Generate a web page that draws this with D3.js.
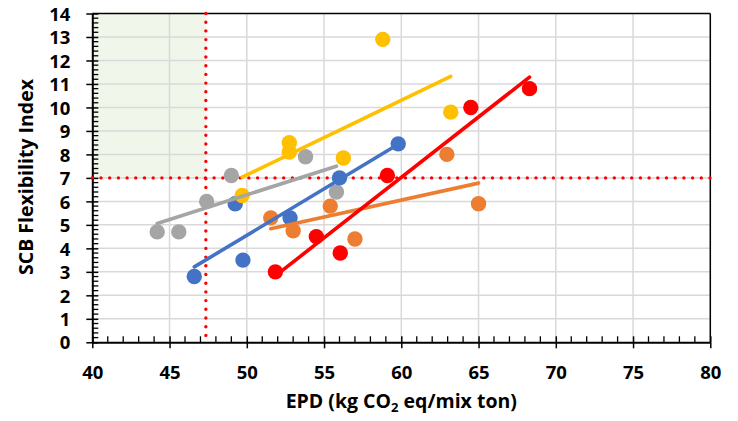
<!DOCTYPE html>
<html>
<head>
<meta charset="utf-8">
<script src="https://cdn.jsdelivr.net/npm/d3@7"></script>
<style>
  html, body { margin: 0; padding: 0; background: #fff; }
  svg { display: block; font-family: "Open Sans", "Liberation Sans", sans-serif; font-weight: 700; }
</style>
</head>
<body>
<svg id="chart" width="738" height="421"></svg>
<script>
// Axis ticks
const xTicks = [40, 45, 50, 55, 60, 65, 70, 75, 80];
const yTicks = [0, 1, 2, 3, 4, 5, 6, 7, 8, 9, 10, 11, 12, 13, 14];

// Thresholds (dotted red guides) and the target zone
const epdLimit = 47.35;
const flexLimit = 7;

// Mix groups: EPD (kg CO2 eq/mix ton) and SCB flexibility index
const grayEPD   = [44.2, 45.6, 47.4, 49.0, 53.8, 55.8];
const grayFI    = [4.7, 4.7, 6.0, 7.1, 7.9, 6.4];
const orangeEPD = [51.55, 53.0, 55.4, 57.0, 62.95, 65.0];
const orangeFI  = [5.3, 4.75, 5.8, 4.4, 8.0, 5.9];
const blueEPD   = [46.6, 49.25, 49.75, 52.8, 56.0, 59.8];
const blueFI    = [2.8, 5.9, 3.5, 5.3, 7.0, 8.45];
const yellowEPD = [49.7, 52.75, 52.75, 56.25, 58.8, 63.2];
const yellowFI  = [6.25, 8.1, 8.5, 7.85, 12.9, 9.8];
const redEPD    = [51.85, 54.5, 56.05, 59.1, 64.5, 68.3];
const redFI     = [3.0, 4.5, 3.8, 7.1, 10.0, 10.8];

const groups = [
  { x: grayEPD,   y: grayFI,   color: "#A5A5A5" },
  { x: orangeEPD, y: orangeFI, color: "#ED7D31" },
  { x: blueEPD,   y: blueFI,   color: "#4472C4" },
  { x: yellowEPD, y: yellowFI, color: "#FFC000" },
  { x: redEPD,    y: redFI,    color: "#FF0000" }
];

const svg = d3.select("#chart");
const plotLeft = 92.3, plotRight = 710.3, plotTop = 13.5, plotBottom = 342.3;

const x = d3.scaleLinear().domain([40, 80]).range([plotLeft, plotRight]);
const y = d3.scaleLinear().domain([0, 14]).range([plotBottom, plotTop]);

// Target zone: low EPD, high flexibility
svg.append("rect")
  .attr("x", x(40)).attr("y", y(14))
  .attr("width", x(epdLimit) - x(40))
  .attr("height", y(flexLimit) - y(14))
  .attr("fill", "#F0F6EA");

// Gridlines
svg.append("g").selectAll("line").data(xTicks.slice(1, -1)).join("line")
  .attr("x1", d => x(d)).attr("x2", d => x(d))
  .attr("y1", plotTop).attr("y2", plotBottom)
  .attr("stroke", "#D9D9D9").attr("stroke-width", 1.5);
svg.append("g").selectAll("line").data(yTicks.slice(1, -1)).join("line")
  .attr("x1", plotLeft).attr("x2", plotRight)
  .attr("y1", d => y(d)).attr("y2", d => y(d))
  .attr("stroke", "#D9D9D9").attr("stroke-width", 1.5);

// Frame
svg.append("line").attr("x1", plotLeft).attr("x2", plotRight).attr("y1", plotTop).attr("y2", plotTop)
  .attr("stroke", "#000").attr("stroke-width", 1.5);
svg.append("line").attr("x1", plotRight).attr("x2", plotRight).attr("y1", plotTop).attr("y2", plotBottom)
  .attr("stroke", "#000").attr("stroke-width", 1.5);

// Minor ticks (inside)
const xMinor = d3.range(40, 80.001, 1).filter(v => v % 5 !== 0);
svg.append("g").selectAll("line").data(xMinor).join("line")
  .attr("x1", d => x(d)).attr("x2", d => x(d))
  .attr("y1", plotBottom).attr("y2", plotBottom - 6)
  .attr("stroke", "#000").attr("stroke-width", 1.3);
const yMinor = d3.range(0, 14.001, 0.2).filter(v => Math.abs(v - Math.round(v)) > 1e-6);
svg.append("g").selectAll("line").data(yMinor).join("line")
  .attr("x1", plotLeft).attr("x2", plotLeft + 6)
  .attr("y1", d => y(d)).attr("y2", d => y(d))
  .attr("stroke", "#000").attr("stroke-width", 1.3);

// Axes with crossing major ticks
const xAxis = svg.append("g").attr("transform", `translate(0,${plotBottom})`)
  .call(d3.axisBottom(x).tickValues(xTicks).tickSizeInner(6).tickSizeOuter(0).tickPadding(18));
xAxis.selectAll(".tick line").clone().attr("y2", -6);
const yAxis = svg.append("g").attr("transform", `translate(${plotLeft},0)`)
  .call(d3.axisLeft(y).tickValues(yTicks).tickSizeInner(6).tickSizeOuter(0).tickPadding(16));
yAxis.selectAll(".tick line").clone().attr("x2", 6);
[xAxis, yAxis].forEach(a => {
  a.select(".domain").attr("stroke", "#000").attr("stroke-width", 2);
  a.selectAll(".tick line").attr("stroke", "#000").attr("stroke-width", 1.5);
  a.selectAll("text").attr("font-family", "'Open Sans', sans-serif")
    .attr("font-weight", 700).attr("font-size", 18.5).attr("fill", "#000");
});
yAxis.selectAll("text").attr("dy", "0.36em");

// Threshold guides
const dotted = g => g.attr("stroke", "#FF0000").attr("stroke-width", 3.4)
  .attr("stroke-linecap", "round").attr("stroke-dasharray", "0 8.7").attr("fill", "none");
svg.append("line").attr("x1", x(40)).attr("x2", x(80))
  .attr("y1", y(flexLimit)).attr("y2", y(flexLimit)).call(dotted);
svg.append("line").attr("x1", x(epdLimit)).attr("x2", x(epdLimit))
  .attr("y1", y(14)).attr("y2", y(0)).call(dotted);

// Markers
groups.forEach(g => {
  svg.append("g").selectAll("circle").data(d3.zip(g.x, g.y)).join("circle")
    .attr("cx", d => x(d[0])).attr("cy", d => y(d[1]))
    .attr("r", 7.7).attr("fill", g.color);
});

// Least-squares trend lines over each group's EPD range
groups.forEach(g => {
  const mx = d3.mean(g.x), my = d3.mean(g.y);
  const sxy = d3.sum(g.x, (v, i) => (v - mx) * (g.y[i] - my));
  const sxx = d3.sum(g.x, v => (v - mx) ** 2);
  const b = sxy / sxx, a = my - b * mx;
  const [x0, x1] = d3.extent(g.x);
  svg.append("line")
    .attr("x1", x(x0)).attr("y1", y(a + b * x0))
    .attr("x2", x(x1)).attr("y2", y(a + b * x1))
    .attr("stroke", g.color).attr("stroke-width", 3.6).attr("stroke-linecap", "round");
});

// Axis titles
const xt = svg.append("text")
  .attr("x", x(60)).attr("y", 408).attr("text-anchor", "middle")
  .attr("font-size", 19.5).attr("font-weight", 700);
xt.append("tspan").text("EPD (kg CO");
xt.append("tspan").attr("font-size", 13).attr("dy", 4).text("2");
xt.append("tspan").attr("dy", -4).text(" eq/mix ton)");

svg.append("text")
  .attr("transform", "translate(33,177) rotate(-90)")
  .attr("text-anchor", "middle")
  .attr("font-size", 19.5).attr("font-weight", 700)
  .text("SCB Flexibility Index");
</script>
</body>
</html>
